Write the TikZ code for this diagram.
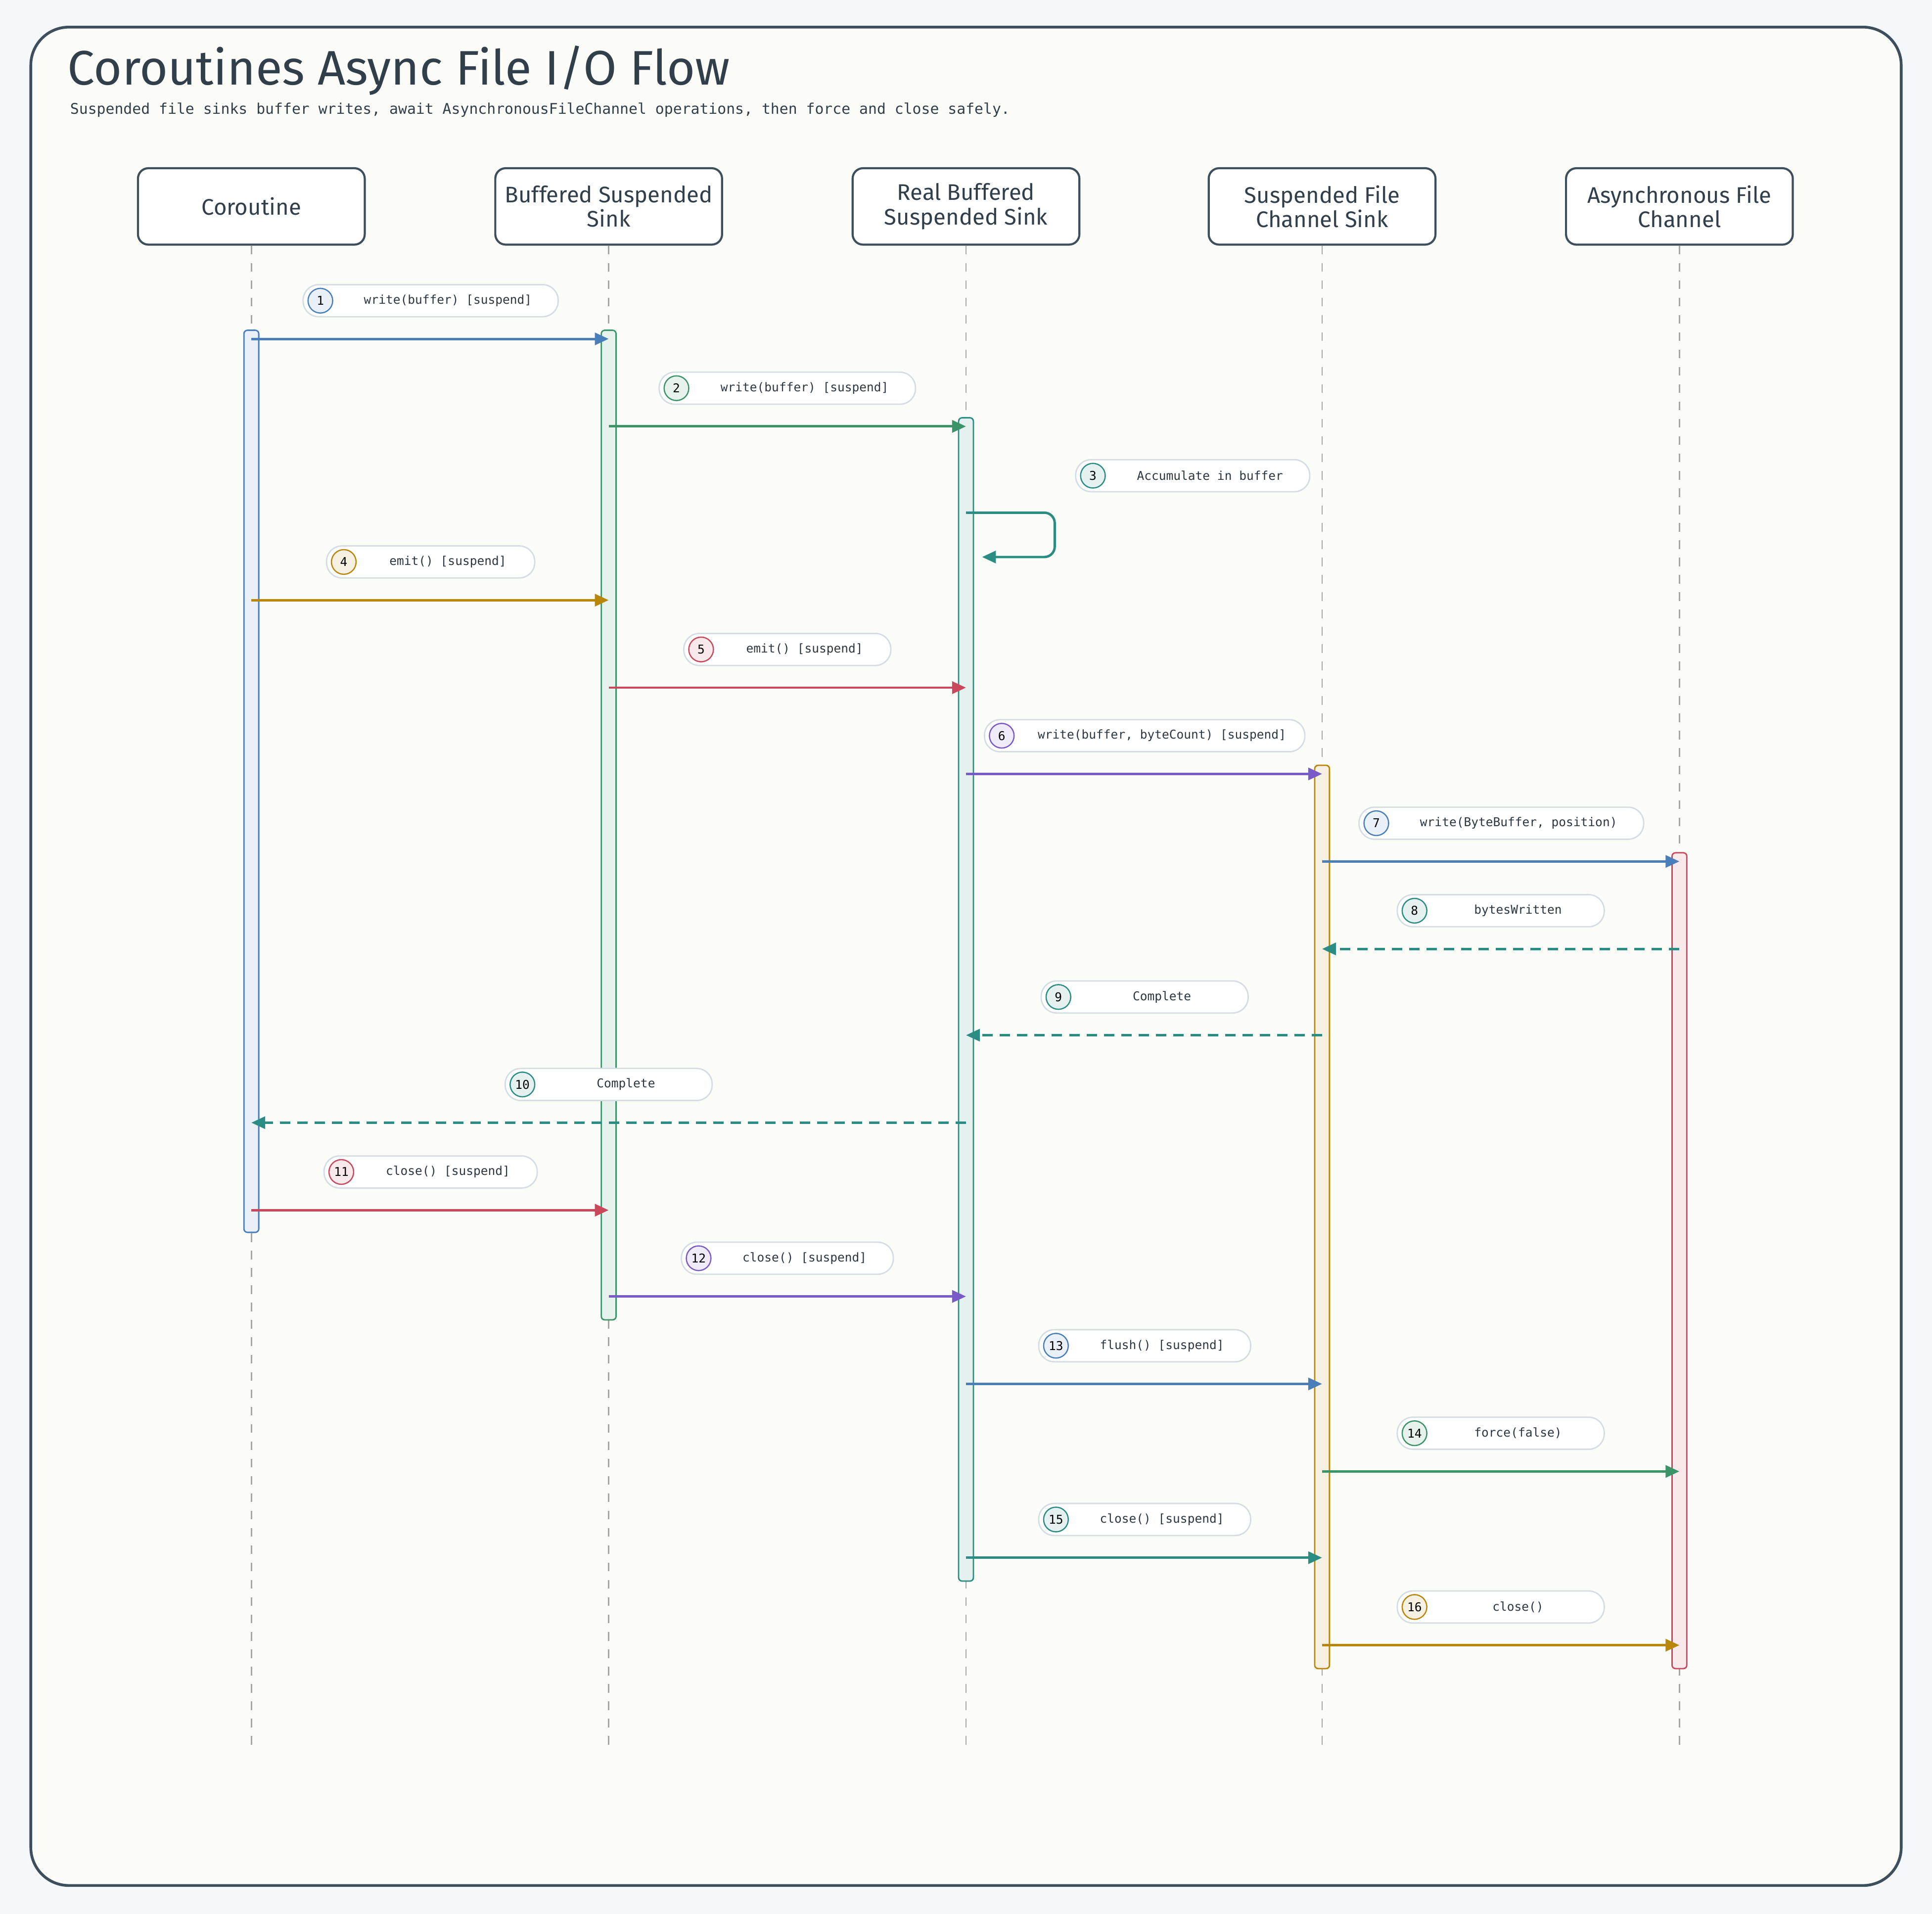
\documentclass[tikz,border=0pt]{standalone}
\usepackage{fontspec}
\setmainfont{Fira Sans}
\newfontfamily\monofont{DejaVu Sans Mono}
\usetikzlibrary{arrows.meta,positioning}

\definecolor{bgpage}{HTML}{F5F8FA}
\definecolor{bgframe}{HTML}{FBFBF7}
\definecolor{ink}{HTML}{3D4F5C}
\definecolor{cblue}{HTML}{4A7EBB}
\definecolor{cgreen}{HTML}{3A9468}
\definecolor{cteal}{HTML}{2A8C82}
\definecolor{corange}{HTML}{B8860B}
\definecolor{cred}{HTML}{C9485B}
\definecolor{cpurple}{HTML}{7A5AC8}
\definecolor{pillline}{HTML}{D5DDE3}

\begin{document}
\begin{tikzpicture}[x=0.025cm, y=-0.025cm,
        head/.style={draw=ink, line width=1.2pt, rounded corners=6pt, fill=white, minimum width=4.6cm, minimum height=1.55cm, align=center, font=\fontsize{13}{14}\selectfont, text=ink!80!black},
        lifeline/.style={draw=gray!70, line width=0.8pt, dash pattern=on 5pt off 5pt},
        act/.style={draw=#1, fill=#1!12, line width=0.8pt, rounded corners=2pt},
        msg/.style={draw=#1, line width=1.4pt, -{Triangle[length=8pt,width=7pt]}},
        solid/.style={},
        back/.style={dash pattern=on 6pt off 4pt},
        pill/.style={draw=pillline, fill=white, line width=0.8pt, rounded corners=9pt},
        num/.style={circle, draw=#1, fill=#1!12, line width=0.7pt, minimum size=0.5cm, inner sep=0pt, font=\monofont\fontsize{7}{8}\selectfont},
        lbl/.style={font=\monofont\fontsize{7}{8}\selectfont, text=ink!70!black}
    ]

    % Background and frame
    \fill[bgpage] (0,0) rectangle (1568,1553);
    \draw[ink, line width=1.6pt, fill=bgframe, rounded corners=22pt] (25,22) rectangle (1543,1530);
    \node[anchor=west, font=\fontsize{28}{30}\selectfont, text=ink!80!black] (title) at (50,57) {Coroutines Async File I/O Flow};
    \node[anchor=west, font=\monofont\fontsize{8.5}{10}\selectfont, text=ink!80!black] (subtitle) at (52,89) {Suspended file sinks buffer writes, await AsynchronousFileChannel operations, then force and close safely.};

    % Participants
    \foreach \n/\x/\t in {co/204/Coroutine, bss/494/{Buffered Suspended\\Sink}, rbss/784/{Real Buffered\\Suspended Sink}, sfcs/1073/{Suspended File\\Channel Sink}, afc/1363/{Asynchronous File\\Channel}} {
        \node[head] (\n) at (\x,167.5) {\t};
        \coordinate (\n-end) at (\x,1420);
        \draw[lifeline] (\n) -- (\n-end);
    }

    % Activations
    \foreach \x/\ya/\yb/\c in {204/268/1000/cblue, 494/268/1071/cgreen, 784/339/1283/cteal, 1073/621/1354/corange, 1363/692/1354/cred} {
        \draw[act=\c] (\x-6,\ya) rectangle (\x+6,\yb);
    }

    % Messages
    \foreach \i/\xa/\xb/\y/\c/\d/\l/\r/\t in {
        1/204/494/275/cblue/solid/246/453/{write(buffer) [suspend]},
        2/494/784/346/cgreen/solid/535/743/{write(buffer) [suspend]},
        4/204/494/487/corange/solid/265/434/{emit() [suspend]},
        5/494/784/558/cred/solid/555/723/{emit() [suspend]},
        6/784/1073/628/cpurple/solid/799/1059/{write(buffer, byteCount) [suspend]},
        7/1073/1363/699/cblue/solid/1103/1334/{write(ByteBuffer, position)},
        8/1363/1073/770/cteal/back/1134/1302/{bytesWritten},
        9/1073/784/840/cteal/back/845/1013/{Complete},
        10/784/204/911/cteal/back/410/578/{Complete},
        11/204/494/982/cred/solid/263/436/{close() [suspend]},
        12/494/784/1052/cpurple/solid/553/725/{close() [suspend]},
        13/784/1073/1123/cblue/solid/843/1015/{flush() [suspend]},
        14/1073/1363/1194/cgreen/solid/1134/1302/{force(false)},
        15/784/1073/1264/cteal/solid/843/1015/{close() [suspend]},
        16/1073/1363/1335/corange/solid/1134/1302/{close()}} {
        \coordinate (m\i-a) at (\xa,\y);
        \coordinate (m\i-b) at (\xb,\y);
        \draw[msg=\c, \d] (m\i-a) -- (m\i-b);
        \draw[pill] (\l,\y-44) rectangle (\r,\y-18);
        \node[num=\c] (n\i) at (\l+14,\y-31) {\i};
        \node[lbl] (t\i) at ({(\l+28+\r)/2},\y-31) {\t};
    }

    % Self message
    \coordinate (m3-a) at (784,416);
    \coordinate (m3-b) at (797,452);
    \draw[msg=cteal, rounded corners=6pt] (m3-a) -- (856,416) -- (856,452) -- (m3-b);
    \draw[pill] (873,373) rectangle (1063,399);
    \node[num=cteal] (n3) at (887,386) {3};
    \node[lbl] (t3) at (982,386) {Accumulate in buffer};

    \useasboundingbox (0,0) rectangle (1568,1553);
\end{tikzpicture}
\end{document}
